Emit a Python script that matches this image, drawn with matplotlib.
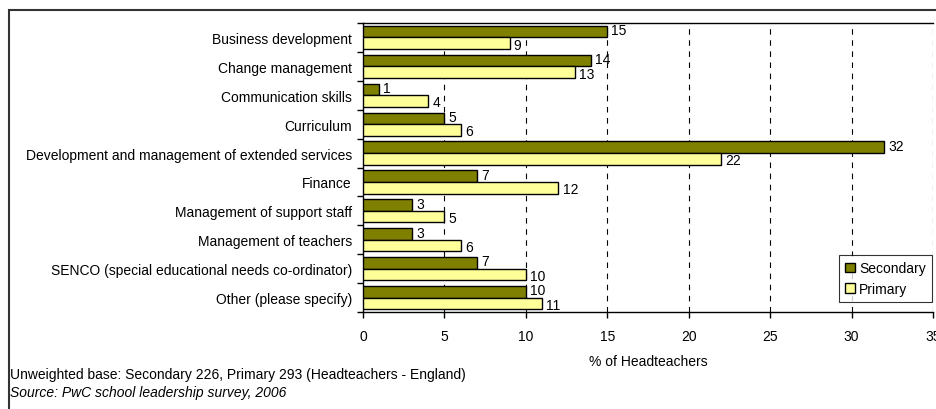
import matplotlib
matplotlib.use("Agg")
import matplotlib.pyplot as plt
import matplotlib.patches as mpatches
import numpy as np

plt.rcParams['font.family'] = ['Liberation Sans', 'DejaVu Sans']

categories = [
    "Business development",
    "Change management",
    "Communication skills",
    "Curriculum",
    "Development and management of extended services",
    "Finance",
    "Management of support staff",
    "Management of teachers",
    "SENCO (special educational needs co-ordinator)",
    "Other (please specify)",
]
secondary = [15, 14, 1, 5, 32, 7, 3, 3, 7, 10]
primary = [9, 13, 4, 6, 22, 12, 5, 6, 10, 11]
xticks = [0, 5, 10, 15, 20, 25, 30, 35]

FS = 10

fig = plt.figure(figsize=(9.36, 4.10), dpi=100)
W, H = 936, 410
ax = fig.add_axes([363 / W, 1 - 313 / H, (933 - 363) / W, (313 - 24) / H])

n = len(categories)
y = np.arange(n)
h = 0.4
ax.barh(y - h / 2, secondary, height=h, color="#808000", edgecolor="black", linewidth=1.0, label="Secondary", zorder=3)
ax.barh(y + h / 2, primary, height=h, color="#FFFF99", edgecolor="black", linewidth=1.0, label="Primary", zorder=3)

for yi, v in zip(y, secondary):
    ax.text(v + 0.25, yi - h / 2 - 0.05, str(v), va="center", ha="left", fontsize=FS, zorder=4)
for yi, v in zip(y, primary):
    ax.text(v + 0.25, yi + h / 2 + 0.05, str(v), va="center", ha="left", fontsize=FS, zorder=4)

ax.set_xlim(0, 35)
ax.set_ylim(n - 0.5, -0.5)
ax.set_xticks(xticks)
ax.set_xticklabels([str(t) for t in xticks], fontsize=FS)
ax.set_yticks(y)
ax.set_yticklabels(categories, fontsize=FS)
ax.tick_params(axis="y", length=0, pad=8)
ax.set_yticks(np.arange(-0.5, n, 1), minor=True)
ax.tick_params(axis="y", which="minor", length=4, direction="out", width=1)
ax.tick_params(axis="x", length=4, direction="out", width=1, pad=8)

for t in xticks[1:]:
    ax.axvline(t, color="black", linestyle=(0, (5, 5)), linewidth=0.8, zorder=1)

for s in ["left", "top", "bottom"]:
    ax.spines[s].set_linewidth(1.0)
    ax.spines[s].set_color("black")
ax.spines["right"].set_visible(False)

ax.set_xlabel("% of Headteachers", fontsize=FS, labelpad=8)

leg = ax.legend(loc="lower right", bbox_to_anchor=(0.998, 0.035), fontsize=FS, frameon=True,
                fancybox=False, edgecolor="black", handlelength=0.7, handleheight=0.7,
                handletextpad=0.3, borderpad=0.45, labelspacing=0.45, borderaxespad=0)
leg.get_frame().set_linewidth(0.8)

fig.text(10 / W, 1 - 375 / H, "Unweighted base: Secondary 226, Primary 293 (Headteachers - England)",
         fontsize=FS, va="center", ha="left")
fig.text(10 / W, 1 - 393 / H, "Source: PwC school leadership survey, 2006",
         fontsize=FS, va="center", ha="left", style="italic")

frame = mpatches.Rectangle((9 / W, -0.05), 1.0, 1 - 10.5 / H + 0.05, transform=fig.transFigure,
                           fill=False, edgecolor="#333333", linewidth=1.5, clip_on=False)
fig.patches.append(frame)

fig.savefig("out.png", dpi=100)
